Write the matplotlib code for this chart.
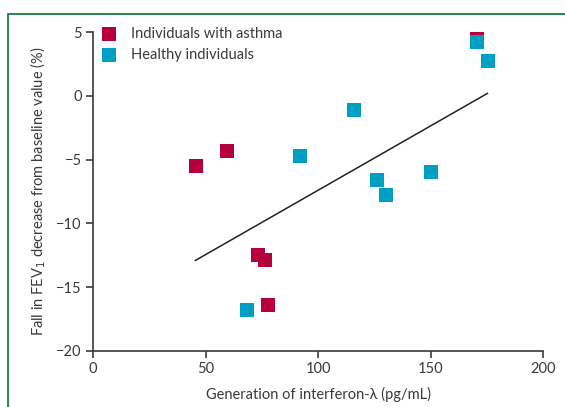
import matplotlib.pyplot as plt
from matplotlib.patches import Rectangle

# data
asthma_x = [45.6, 59.7, 73.5, 76.6, 77.9, 170.8]
asthma_y = [-5.5, -4.3, -12.5, -12.9, -16.4, 4.6]
healthy_x = [68.6, 92.1, 116.1, 126.4, 130.4, 150.4, 170.8, 175.7]
healthy_y = [-16.8, -4.7, -1.1, -6.6, -7.8, -6.0, 4.2, 2.7]
fit_x = [45.5, 175.3]
fit_y = [-12.9, 0.2]

red = '#B5003B'
cyan = '#00A0C4'
grey = '#3a3a3a'

plt.rcParams['font.family'] = ['Lato', 'DejaVu Sans']

fig = plt.figure(figsize=(5.65, 4.07), dpi=100)
ax = fig.add_axes([0.1646, 0.1376, 0.7965, 0.7834])

# green frame, partly off the canvas
fig.patches.append(Rectangle((0.015, -0.1), 1.2, 1.0656, transform=fig.transFigure,
                             fill=False, edgecolor='#1E7A45', linewidth=1.3))

ax.plot(fit_x, fit_y, color='#222222', linewidth=1.1, zorder=2)
ax.scatter(asthma_x, asthma_y, marker='s', s=90, color=red, linewidths=0,
           label='Individuals with asthma', zorder=3)
ax.scatter(healthy_x, healthy_y, marker='s', s=90, color=cyan, linewidths=0,
           label='Healthy individuals', zorder=4)

ax.set_xlim(0, 200)
ax.set_ylim(-20, 5)
ax.set_xticks([0, 50, 100, 150, 200])
ax.set_yticks([5, 0, -5, -10, -15, -20])
ax.set_yticklabels(['5', '0', '\u22125', '\u221210', '\u221215', '\u221220'])

for s in ['top', 'right']:
    ax.spines[s].set_visible(False)
for s in ['left', 'bottom']:
    ax.spines[s].set_color(grey)
    ax.spines[s].set_linewidth(1.2)
ax.tick_params(direction='out', length=5, width=1.2, color=grey,
               labelsize=10.5, labelcolor=grey, pad=3)

ax.set_xlabel('Generation of interferon-\u03bb (pg/mL)', fontsize=10.5, color=grey, labelpad=8)
ax.set_ylabel('Fall in FEV$_1$ decrease from baseline value (%)', fontsize=10.5,
              color=grey, labelpad=6)

ax.legend(loc='upper left', bbox_to_anchor=(-0.017, 1.045), frameon=False, fontsize=10.5,
          labelcolor=grey, handletextpad=0.5, borderaxespad=0.2, labelspacing=0.5,
          markerscale=1.0)

plt.savefig('out.png', dpi=100)
plt.close()
